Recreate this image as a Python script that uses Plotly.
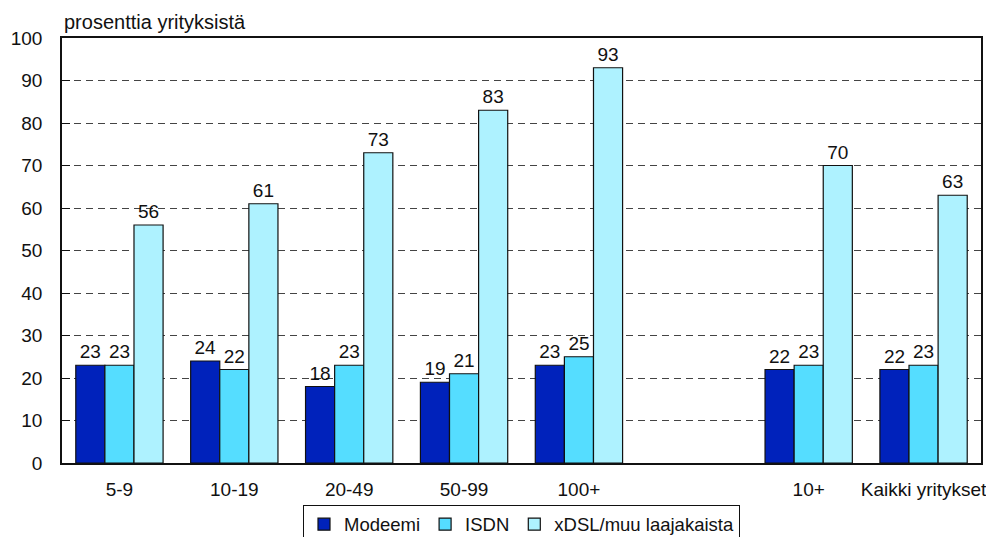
import plotly.graph_objects as go

categories = ["5-9", "10-19", "20-49", "50-99", "100+", " ", "10+", "Kaikki yritykset"]
modeemi = [23, 24, 18, 19, 23, None, 22, 22]
isdn = [23, 22, 23, 21, 25, None, 23, 23]
xdsl = [56, 61, 73, 83, 93, None, 70, 63]

series = [
    ("Modeemi", modeemi, "#0022BB"),
    ("ISDN", isdn, "#55DDFF"),
    ("xDSL/muu laajakaista", xdsl, "#AEF2FF"),
]

FONT = "Liberation Sans, Arial"

fig = go.Figure()
for name, vals, color in series:
    fig.add_trace(go.Bar(
        x=categories, y=vals, name=name,
        marker=dict(color=color, line=dict(color="#111111", width=1.2)),
        text=[("" if v is None else str(v)) for v in vals],
        textposition="outside",
        textfont=dict(family=FONT, size=19, color="#111111"),
        cliponaxis=False,
    ))

# page has an 8px body margin, so the figure is sized to fit the window
fig.update_layout(
    width=986, height=529,
    margin=dict(l=54, r=13, t=30, b=74, autoexpand=False),
    paper_bgcolor="white", plot_bgcolor="white",
    barmode="group", bargap=0.24, bargroupgap=0,
    font=dict(family=FONT, size=19, color="#111111"),
    showlegend=True,
    legend=dict(
        orientation="h", x=0.5, xanchor="center", y=-0.098, yanchor="top",
        bordercolor="#111111", borderwidth=1, bgcolor="white",
        font=dict(size=18.5), itemwidth=30, tracegroupgap=0,
    ),
    annotations=[dict(
        text="prosenttia yrityksistä", xref="paper", yref="paper",
        x=0, y=1, xanchor="left", yanchor="bottom", yshift=3, showarrow=False,
        font=dict(size=20, color="#111111"),
    )],
)
fig.update_xaxes(
    type="category", showline=True, linecolor="#111111", linewidth=1.5, mirror=True,
    ticks="", showgrid=False, tickfont=dict(size=19), ticklabelstandoff=8,
    automargin=False,
)
fig.update_yaxes(
    range=[0, 100], dtick=10, tick0=0, showline=True, linecolor="#111111", linewidth=1.5,
    mirror=True, ticks="inside", ticklen=8, tickcolor="#111111",
    showgrid=True, gridcolor="#444444", griddash="7px,5px", gridwidth=1,
    tickfont=dict(size=19), ticklabelstandoff=14, zeroline=False, automargin=False,
)
fig.write_html("out.html")
